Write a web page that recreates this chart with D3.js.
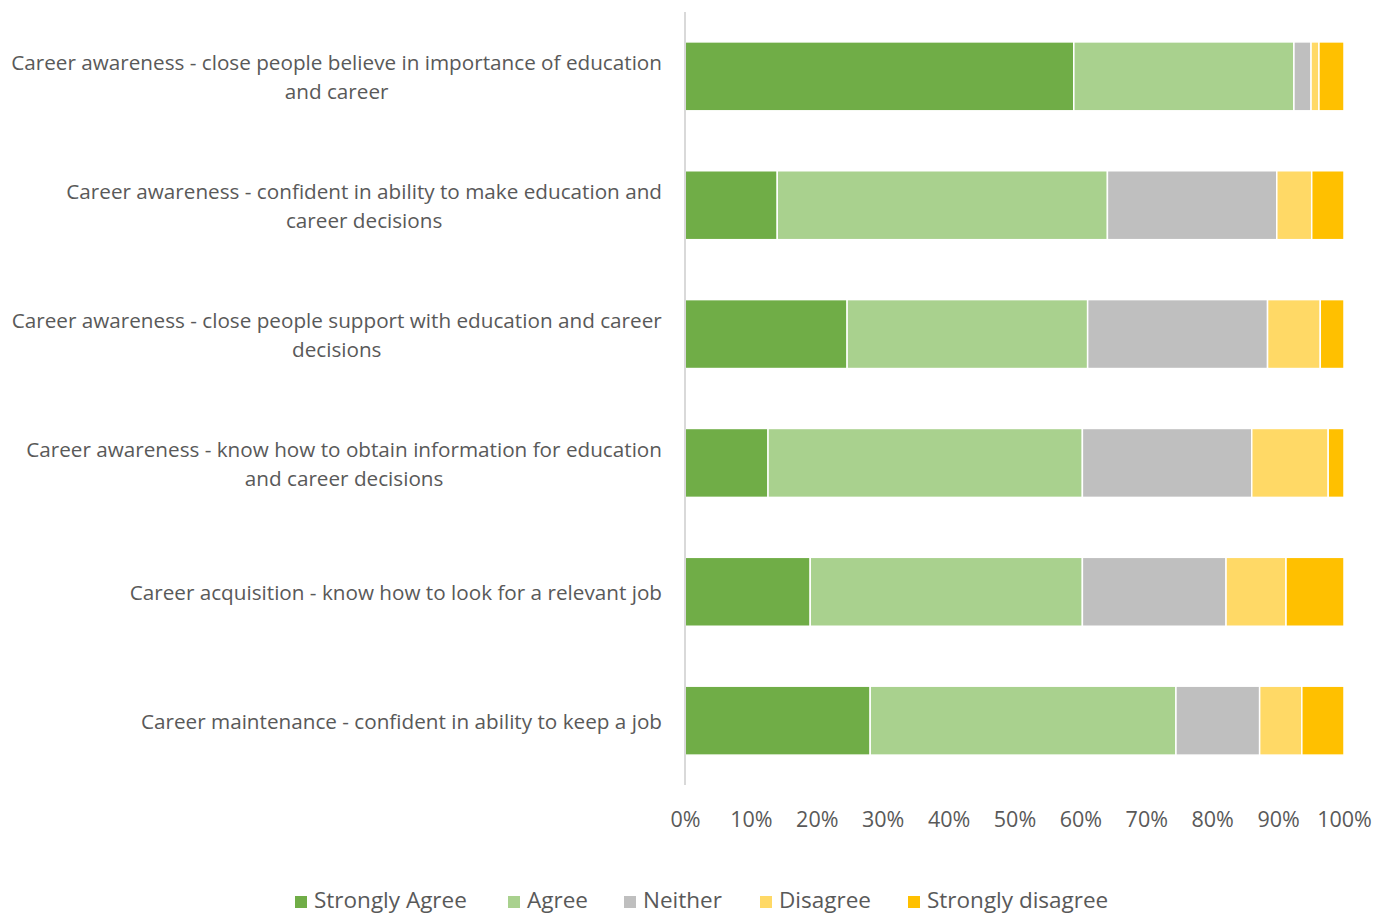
<!DOCTYPE html>
<html><head><meta charset="utf-8">
<script src="https://cdn.jsdelivr.net/npm/d3@7"></script>
<style>body{margin:0;background:#fff;} text{font-family:"Open Sans",sans-serif;fill:#595959;}</style>
</head><body>
<svg id="c" width="1377" height="915"></svg>
<script>
const categories = [
  ["Career awareness - close people believe in importance of education", "and career"],
  ["Career awareness - confident in ability to make education and", "career decisions"],
  ["Career awareness - close people support with education and career", "decisions"],
  ["Career awareness - know how to obtain information for education", "and career decisions"],
  ["Career acquisition - know how to look for a relevant job"],
  ["Career maintenance - confident in ability to keep a job"]
];
const seriesNames = ["Strongly Agree", "Agree", "Neither", "Disagree", "Strongly disagree"];
const colors = ["#70AD47", "#A9D18E", "#BFBFBF", "#FFD966", "#FFC000"];
const stronglyAgree = [59.0, 14.0, 24.6, 12.6, 19.0, 28.1];
const agree =         [33.4, 50.1, 36.5, 47.7, 41.3, 46.4];
const neither =       [2.6, 25.7, 27.3, 25.7, 21.8, 12.7];
const disagree =      [1.2, 5.3, 8.0, 11.6, 9.1, 6.4];
const stronglyDisagree = [3.8, 4.9, 3.6, 2.4, 8.8, 6.4];
const tickValues = [0,10,20,30,40,50,60,70,80,90,100];

const svg = d3.select("#c");
const pL = 685, pR = 1344, pT = 12, pB = 785;
const x = d3.scaleLinear().domain([0,100]).range([pL,pR]);
const y = d3.scaleBand().domain(d3.range(categories.length)).range([pT, pB]).paddingInner(0.465).paddingOuter(0.232);

const rows = categories.map((c,i)=>({i, vals:[stronglyAgree[i],agree[i],neither[i],disagree[i],stronglyDisagree[i]]}));
const keys = [0,1,2,3,4];
const stack = d3.stack().keys(keys).value((d,k)=>d.vals[k]);
const series = stack(rows);

svg.append("g").selectAll("g").data(series).join("g")
  .attr("fill",(d,k)=>colors[k])
  .selectAll("rect").data(d=>d).join("rect")
  .attr("x",d=>x(d[0])).attr("width",d=>x(d[1])-x(d[0]))
  .attr("y",d=>y(d.data.i)).attr("height",y.bandwidth())
  .attr("stroke","#fff").attr("stroke-width",1.5);

svg.append("line").attr("x1",pL).attr("x2",pL).attr("y1",pT).attr("y2",pB)
  .attr("stroke","#D9D9D9").attr("stroke-width",2);

const fs = 20.7;
categories.forEach((lines,i)=>{
  const cy = y(i)+y.bandwidth()/2 + 1;
  const lh = 29;
  const t = svg.append("text").attr("font-size",fs).attr("text-anchor","middle");
  const n = lines.length;
  lines.forEach((ln,j)=>{
    t.append("tspan").text(ln).attr("x",0).attr("y", cy + (j-(n-1)/2)*lh).attr("dy","0.35em");
  });
  const w = t.node().getBBox().width;
  t.selectAll("tspan").attr("x", 662 - w/2);
});

const ax = svg.append("g").attr("transform",`translate(0,${pB})`)
  .call(d3.axisBottom(x).tickValues(tickValues).tickFormat(d=>d+"%").tickSize(0).tickPadding(27));
ax.select(".domain").remove();
ax.selectAll("text").attr("font-size",21.5).attr("fill","#595959").style("font-family","'Open Sans',sans-serif");

const legX = [295, 508, 624, 760, 908];
const lg = svg.append("g");
seriesNames.forEach((s,k)=>{
  lg.append("rect").attr("x",legX[k]).attr("y",896).attr("width",12).attr("height",12).attr("fill",colors[k]);
  lg.append("text").attr("x",legX[k]+19).attr("y",900).attr("dy","0.35em").attr("font-size",22.5).text(s);
});
</script></body></html>
